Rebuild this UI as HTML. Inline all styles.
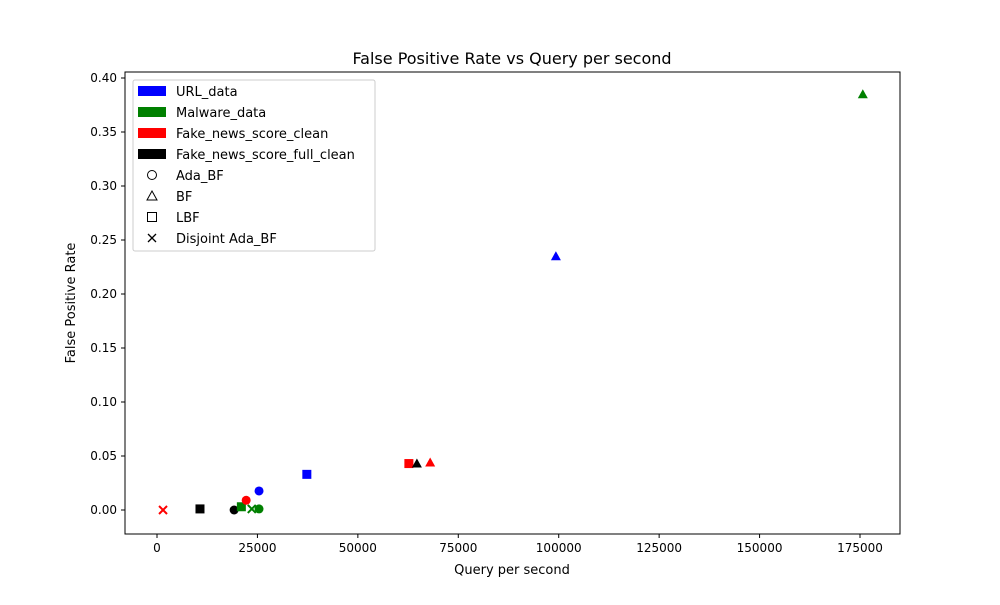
<!DOCTYPE html>
<html><head><meta charset="utf-8"><style>body{margin:0;background:#fff}svg{font-family:"DejaVu Sans","Liberation Sans",sans-serif}</style></head>
<body>
<svg width="1000" height="600" id="s">
<rect x="125" y="72" width="775" height="462" fill="none" stroke="#000" stroke-width="1"/>
<text x="512" y="64" font-size="16" text-anchor="middle">False Positive Rate vs Query per second</text>
<text x="512" y="574" font-size="13" text-anchor="middle">Query per second</text>
<text transform="translate(75,303) rotate(-90)" font-size="13" text-anchor="middle">False Positive Rate</text>
<g id="ax"></g><g id="pts"></g>
<g>
<rect x="133" y="80" width="242" height="171" fill="#fff" stroke="#ccc" rx="2"/>
<g id="leg"></g>
</g>
</svg>
<script>
const xTicks=[0,25000,50000,75000,100000,125000,150000,175000];
const yTicks=[0,0.05,0.10,0.15,0.20,0.25,0.30,0.35,0.40];
const datasets=["URL_data","Malware_data","Fake_news_score_clean","Fake_news_score_full_clean"];
const colors=["#0000ff","#008000","#ff0000","#000000"];
const methods=["Ada_BF","BF","LBF","Disjoint Ada_BF"];
const ptDataset=[2,3,3,1,2,1,1,0,0,2,3,2,0,1];
const ptMethod=[3,2,0,2,0,3,0,0,2,2,1,1,1,1];
const ptQps=[1500,10700,19200,21000,22200,23600,25400,25400,37300,62700,64700,68000,99300,175700];
const ptFpr=[0.0,0.001,0.0,0.003,0.009,0.001,0.001,0.0176,0.033,0.043,0.043,0.044,0.235,0.385];
const NS="http://www.w3.org/2000/svg";
const X=v=>157+v*(703/175000), Y=v=>510-v*1080;
function mk(t,a,p){const e=document.createElementNS(NS,t);for(const k in a)e.setAttribute(k,a[k]);p.appendChild(e);return e;}
const ax=document.getElementById('ax');
xTicks.forEach(v=>{mk('line',{x1:X(v),x2:X(v),y1:534,y2:538,stroke:'#000'},ax);const t=mk('text',{x:X(v),y:552,'font-size':12,'text-anchor':'middle'},ax);t.textContent=v;

});
yTicks.forEach(v=>{mk('line',{x1:121,x2:125,y1:Y(v),y2:Y(v),stroke:'#000'},ax);const t=mk('text',{x:117,y:Y(v)+4,'font-size':12,'text-anchor':'end'},ax);t.textContent=v.toFixed(2);

});
function marker(m,x,y,c,p,fill){let e;
 if(m==0)e=mk('circle',{cx:x,cy:y,r:4.5,fill:fill?c:'none',stroke:c,'stroke-width':fill?0:1},p);
 else if(m==1)e=mk('polygon',{points:`${x},${y-5} ${x+5},${y+4} ${x-5},${y+4}`,fill:fill?c:'none',stroke:c,'stroke-width':fill?0:1},p);
 else if(m==2)e=mk('rect',{x:x-4.5,y:y-4.5,width:9,height:9,fill:fill?c:'none',stroke:c,'stroke-width':fill?0:1},p);
 else e=mk('path',{d:`M${x-4},${y-4}L${x+4},${y+4}M${x-4},${y+4}L${x+4},${y-4}`,stroke:c,'stroke-width':fill?2:1.3,fill:'none'},p);
 return e;}
const pts=document.getElementById('pts');
ptQps.forEach((q,i)=>{const e=marker(ptMethod[i],X(q),Y(ptFpr[i]),colors[ptDataset[i]],pts,true);

});
const leg=document.getElementById('leg');
datasets.forEach((d,i)=>{const y=91+i*21;mk('rect',{x:138,y:y-5,width:28,height:10,fill:colors[i]},leg);const t=mk('text',{x:176,y:y+5,'font-size':13},leg);t.textContent=d;

});
methods.forEach((m,i)=>{const y=175+i*21;marker(i,152,y,'#000',leg,false);const t=mk('text',{x:176,y:y+5,'font-size':13},leg);t.textContent=m;

});
</script>
</body></html>
